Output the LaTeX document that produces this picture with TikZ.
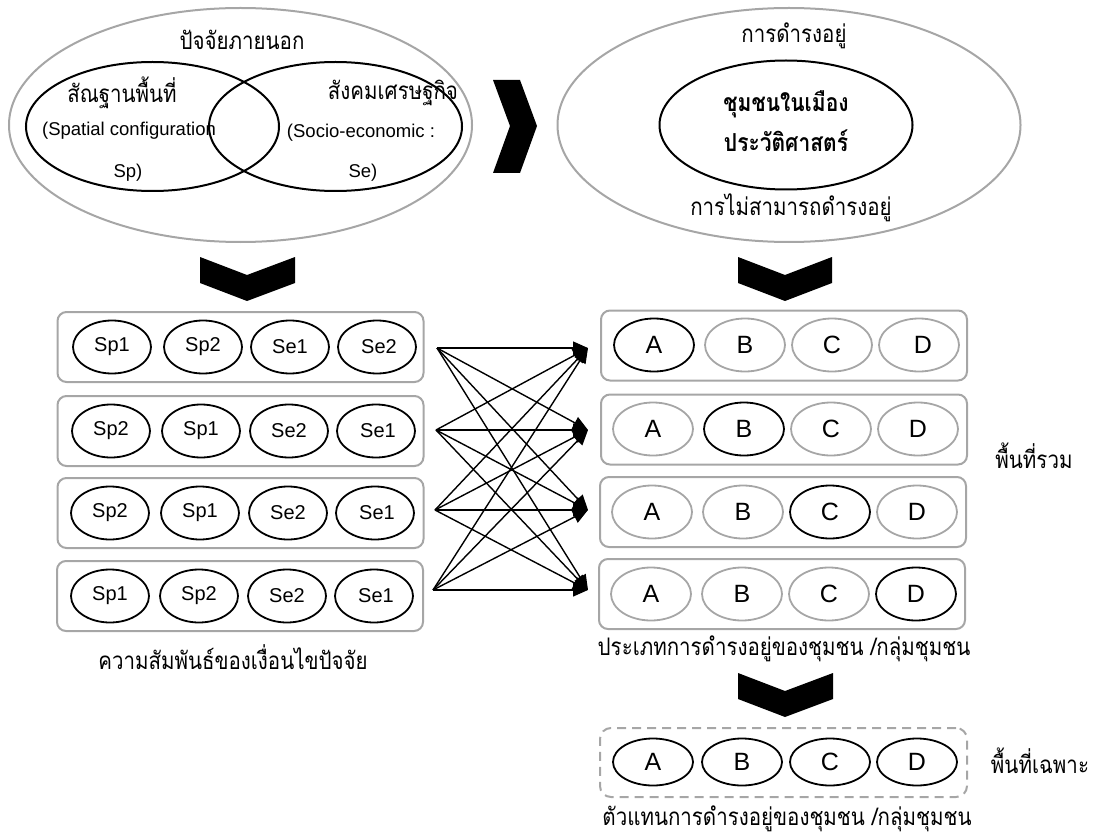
\documentclass[tikz,border=0pt]{standalone}
\usepackage{fontspec}
\usepackage{graphicx}
\setmainfont{Liberation Sans}
\newfontfamily\thai[Script=Thai]{Loma}
\newcommand\thx[1]{\scalebox{1}[1.18]{#1}}
\usetikzlibrary{shapes.geometric,arrows.meta}
\definecolor{gr}{HTML}{A6A6A6}
\begin{document}
\begin{tikzpicture}[x=1pt,y=-1pt,
  outerell/.style={ellipse,draw=gr,line width=2pt,minimum width=463pt,minimum height=234pt,inner sep=0pt},
  innerell/.style={ellipse,draw=black,line width=2pt,minimum width=253pt,minimum height=129pt,inner sep=0pt},
  rowbox/.style={draw=gr,line width=2pt,rounded corners=9pt,minimum width=366pt,minimum height=70pt,inner sep=0pt},
  dashbox/.style={draw=gr,line width=2pt,dashed,dash pattern=on 9pt off 6pt,rounded corners=11pt,minimum width=367pt,minimum height=69pt,inner sep=0pt},
  fac/.style={ellipse,draw=black,line width=1.8pt,minimum width=78pt,minimum height=53pt,inner sep=0pt,font=\fontsize{20}{22}\selectfont},
  typ/.style={ellipse,draw=gr,line width=1.8pt,minimum width=80pt,minimum height=53pt,inner sep=0pt,font=\fontsize{25}{27}\selectfont},
  typon/.style={typ,draw=black},
  rep/.style={ellipse,draw=black,line width=1.8pt,minimum width=80pt,minimum height=47pt,inner sep=0pt,font=\fontsize{25}{27}\selectfont},
  thtxt/.style={anchor=base,inner sep=0pt,font=\thai\fontsize{20.5}{23}\selectfont},
  entxt/.style={inner sep=0pt,font=\fontsize{18.5}{20}\selectfont},
  conn/.style={line width=1.4pt,-{Triangle[length=15pt,width=13pt]}},
  chev/.style={fill=black}
]
\useasboundingbox (0,0) rectangle (1097,837);

% ---- top left: external factors
\node[outerell] (ext) at (240.5,125) {};
\node[innerell] (spc) at (152.5,126.5) {};
\node[innerell] (soc) at (335.5,126.5) {};
\node[thtxt] (extT) at (242,50) {\thx{ปัจจัยภายนอก}};
\node[thtxt] (spcT) at (122,103) {\thx{สัณฐานพื้นที่}};
\node[entxt] (spcE) at (129,131) {(Spatial configuration};
\node[entxt] (spcE2) at (128,173) {Sp)};
\node[thtxt] (socT) at (393,100) {\thx{สังคมเศรษฐกิจ}};
\node[entxt] (socE) at (361,133) {(Socio-economic :};
\node[entxt] (socE2) at (363,173) {Se)};

% ---- chevron right
\fill[chev] (493,80) -- (520,80) -- (537,126) -- (520,173) -- (493,173) -- (510,126) -- cycle;

% ---- top right: existence
\node[outerell] (exist) at (789,125) {};
\node[innerell] (comm) at (786,125) {};
\node[thtxt] (existT) at (794,43) {\thx{การดำรงอยู่}};
\node[thtxt,font=\thai\bfseries\fontsize{21}{23}\selectfont] (commT1) at (786,112) {\thx{ชุมชนในเมือง}};
\node[thtxt,font=\thai\bfseries\fontsize{21}{23}\selectfont] (commT2) at (786,152) {\thx{ประวัติศาสตร์}};
\node[thtxt] (nonT) at (791,215) {\thx{การไม่สามารถดำรงอยู่}};

% ---- down chevrons
\fill[chev] (200,257) -- (247,275) -- (295,257) -- (295,283) -- (247,301) -- (200,283) -- cycle;
\fill[chev] (738,257) -- (785,275) -- (832,257) -- (832,283) -- (785,301) -- (738,283) -- cycle;
\fill[chev] (738,673) -- (785,691) -- (833,673) -- (833,699) -- (785,717) -- (738,699) -- cycle;

% ---- left rows (factor combinations)
\node[rowbox] (lb1) at (240.5,347) {};
\node[rowbox] (lb2) at (240.5,431) {};
\node[rowbox] (lb3) at (240.5,513) {};
\node[rowbox] (lb4) at (240,596) {};

\node[fac] (a11) at (112,347) {Sp1};
\node[fac] (a12) at (203,347) {Sp2};
\node[fac] (a13) at (290,347) {Se1};
\node[fac] (a14) at (377,347) {\hspace*{4pt}Se2};
\node[fac] (a21) at (111,431) {Sp2};
\node[fac] (a22) at (201,431) {Sp1};
\node[fac] (a23) at (289,431) {Se2};
\node[fac] (a24) at (376,431) {\hspace*{4pt}Se1};
\node[fac] (a31) at (110,513) {Sp2};
\node[fac] (a32) at (200,513) {Sp1};
\node[fac] (a33) at (288,513) {Se2};
\node[fac] (a34) at (375,513) {\hspace*{4pt}Se1};
\node[fac] (a41) at (110,596) {Sp1};
\node[fac] (a42) at (199,596) {Sp2};
\node[fac] (a43) at (287,596) {Se2};
\node[fac] (a44) at (374,596) {\hspace*{4pt}Se1};

\node[thtxt] (relT) at (233,669) {\thx{ความสัมพันธ์ของเงื่อนไขปัจจัย}};

% ---- right rows (existence types)
\node[rowbox] (rb1) at (784,345.5) {};
\node[rowbox] (rb2) at (784,429.5) {};
\node[rowbox] (rb3) at (783,512) {};
\node[rowbox] (rb4) at (782,594) {};

\node[typon] (t11) at (654,345) {A};
\node[typ] (t12) at (745,345) {B};
\node[typ] (t13) at (832,345) {C};
\node[typ] (t14) at (919,345) {\hspace*{8pt}D};
\node[typ] (t21) at (653,429) {A};
\node[typon] (t22) at (744,429) {B};
\node[typ] (t23) at (831,429) {C};
\node[typ] (t24) at (918,429) {D};
\node[typ] (t31) at (652,512) {A};
\node[typ] (t32) at (743,512) {B};
\node[typon] (t33) at (830,512) {C};
\node[typ] (t34) at (917,512) {D};
\node[typ] (t41) at (651,594) {A};
\node[typ] (t42) at (742,594) {B};
\node[typ] (t43) at (829,594) {C};
\node[typon] (t44) at (916,594) {D};

\node[thtxt] (allT) at (1034,468) {\thx{พื้นที่รวม}};
\node[thtxt] (typT) at (784,655) {\thx{ประเภทการดำรงอยู่ของชุมชน /กลุ่มชุมชน}};

% ---- connectors
\coordinate (L1) at (437,348);
\coordinate (L2) at (436,430);
\coordinate (L3) at (435,510);
\coordinate (L4) at (433,590);
\coordinate (R1) at (588,348);
\coordinate (R2) at (588,430);
\coordinate (R3) at (588,510);
\coordinate (R4) at (588,590);
\foreach \i in {1,...,4}{
  \foreach \j in {1,...,4}{
    \draw[conn] (L\i) -- (R\j);
  }
}

% ---- bottom: representatives
\node[dashbox] (repbox) at (783.5,762.5) {};
\node[rep] (r1) at (653,762) {A};
\node[rep] (r2) at (742,762) {B};
\node[rep] (r3) at (830,762) {C};
\node[rep] (r4) at (917,762) {D};
\node[thtxt] (speT) at (1040,773) {\thx{พื้นที่เฉพาะ}};
\node[thtxt] (repT) at (787,825) {\thx{ตัวแทนการดำรงอยู่ของชุมชน /กลุ่มชุมชน}};
\end{tikzpicture}
\end{document}
